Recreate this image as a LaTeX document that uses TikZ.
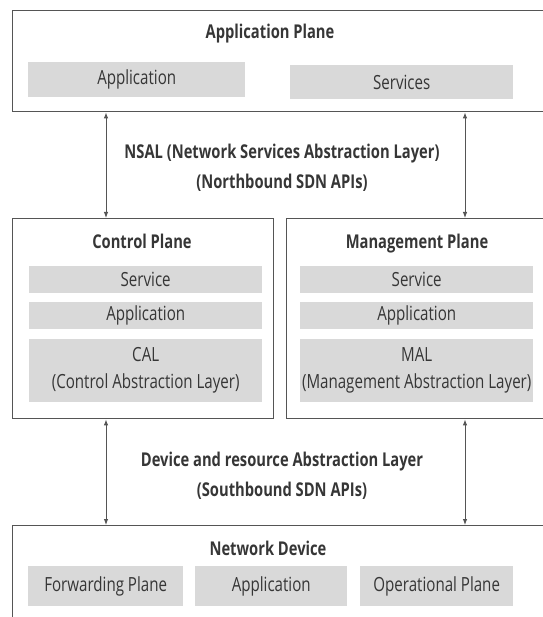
\documentclass[tikz,border=0pt]{standalone}
\usepackage{fontspec}
\setmainfont[FakeStretch=0.775]{Open Sans}
\usetikzlibrary{arrows.meta}
\definecolor{ink}{HTML}{363636}
\definecolor{frame}{HTML}{555555}
\definecolor{cellgray}{HTML}{D9D9D9}
\begin{document}
\begin{tikzpicture}[x=1pt,y=-1pt,
  plane/.style={draw=frame, line width=1.4pt, inner sep=0pt, anchor=north west},
  cell/.style={fill=cellgray, inner sep=0pt, anchor=north west, text=ink, align=center,
    font=\fontsize{19.5}{27}\selectfont},
  title/.style={text=ink, inner sep=0pt, anchor=base,
    font=\bfseries\fontsize{19}{22}\selectfont},
  apilabel/.style={text=ink, align=center, font=\bfseries\fontsize{19}{30}\selectfont},
  link/.style={draw=frame, line width=0.9pt, {Latex[length=6pt,width=4.5pt]}-{Latex[length=6pt,width=4.5pt]}}]
\useasboundingbox (0,0) rectangle (542,617);

% application plane
\node[plane, minimum width=540pt, minimum height=101pt] (ap) at (12,10) {};
\node[title] (apt) at (270,39) {Application Plane};
\node[cell, minimum width=217pt, minimum height=35pt] (apa) at (28,62) {Application};
\node[cell, minimum width=223pt, minimum height=34pt] (aps) at (290,65) {Services};

% northbound interface
\node[apilabel] (nsal) at (282,168) {NSAL (Network Services Abstraction Layer)\\(Northbound SDN APIs)};

% control plane
\node[plane, minimum width=261pt, minimum height=200pt] (cp) at (12,218) {};
\node[title] (cpt) at (142,248) {Control Plane};
\node[cell, minimum width=233pt, minimum height=27pt] (cps) at (29,266) {Service};
\node[cell, minimum width=233pt, minimum height=27pt] (cpa) at (29,302) {Application};
\node[cell, minimum width=233pt, minimum height=63pt] (cpc) at (29,339) {CAL\\(Control Abstraction Layer)};

% management plane
\node[plane, minimum width=270pt, minimum height=200pt] (mp) at (286,218) {};
\node[title] (mpt) at (417,248) {Management Plane};
\node[cell, minimum width=233pt, minimum height=27pt] (mps) at (300,266) {Service};
\node[cell, minimum width=233pt, minimum height=27pt] (mpa) at (300,302) {Application};
\node[cell, minimum width=233pt, minimum height=63pt] (mpm) at (300,339) {MAL\\(Management Abstraction Layer)};

% southbound interface
\node[apilabel] (dal) at (282,476) {Device and resource Abstraction Layer\\(Southbound SDN APIs)};

% network device
\node[plane, minimum width=540pt, minimum height=120pt] (nd) at (12,525) {};
\node[title] (ndt) at (268,555) {Network Device};
\node[cell, minimum width=155pt, minimum height=40pt] (ndf) at (28,566) {Forwarding Plane};
\node[cell, minimum width=152pt, minimum height=40pt] (nda) at (195,566) {Application};
\node[cell, minimum width=153pt, minimum height=40pt] (ndo) at (360,566) {Operational Plane};

% interface connectors
\coordinate (xl) at (106,0);
\coordinate (xr) at (465,0);
\draw[link] (ap.south -| xl) -- (cp.north -| xl);
\draw[link] (ap.south -| xr) -- (mp.north -| xr);
\draw[link] (cp.south -| xl) -- (nd.north -| xl);
\draw[link] (mp.south -| xr) -- (nd.north -| xr);
\end{tikzpicture}
\end{document}
